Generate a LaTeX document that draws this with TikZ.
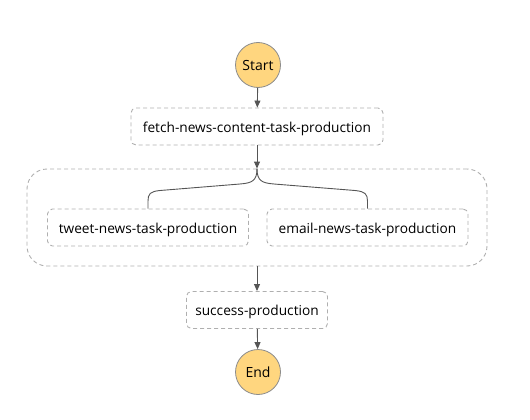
\documentclass[tikz,border=0pt]{standalone}
\usepackage{fontspec}
\setmainfont{Open Sans}
\usetikzlibrary{arrows.meta}
\definecolor{circfill}{RGB}{255,214,127}
\definecolor{circline}{RGB}{140,140,140}
\definecolor{boxline}{RGB}{175,175,175}
\definecolor{arrline}{RGB}{85,85,85}
\tikzset{
  circ/.style={circle, draw=circline, fill=circfill, line width=0.8pt, minimum size=45pt, inner sep=0pt, text height=11pt, text depth=0pt, font=\fontsize{14}{16}\selectfont},
  task/.style={rectangle, rounded corners=5pt, draw=boxline, line width=0.9pt, dash pattern=on 4pt off 3pt, minimum height=37pt, inner sep=0pt, text height=11pt, text depth=0pt, font=\fontsize{13.7}{16}\selectfont},
  parbox/.style={rectangle, rounded corners=20pt, draw=boxline, line width=0.9pt, dash pattern=on 4pt off 3pt, inner sep=0pt},
  arr/.style={draw=arrline, line width=0.9pt, -{Triangle[length=7pt,width=6pt]}},
  conn/.style={draw=arrline, line width=0.9pt}
}
\begin{document}
\begin{tikzpicture}[x=1pt,y=-1pt]
\useasboundingbox (0,0) rectangle (530,420);
\node[circ] (start) at (258,65) {Start};
\node[task, minimum width=252pt] (fetch) at (257,126.5) {fetch-news-content-task-production};
\node[parbox, minimum width=460pt, minimum height=97pt] (par) at (257,217.5) {};
\node[task, minimum width=201pt] (tweet) at (148,227.5) {tweet-news-task-production};
\node[task, minimum width=201pt] (email) at (367.5,227.5) {email-news-task-production};
\node[task, minimum width=141pt] (succ) at (257,310) {success-production};
\node[circ] (end) at (258,372) {End};
\draw[arr] (start) -- (fetch);
\draw[arr] (fetch) -- (par);
\draw[conn] (par.north) .. controls (257,181) and (252,183) .. (240,184) -- (160,190.5) .. controls (150,191.5) and (148,194) .. (148,201) -- (tweet.north);
\draw[conn] (par.north) .. controls (257,181) and (262,183) .. (274,184) -- (355,190.5) .. controls (365,191.5) and (367.5,194) .. (367.5,201) -- (email.north);
\draw[arr] (par) -- (succ);
\draw[arr] (succ) -- (end);
\end{tikzpicture}
\end{document}
